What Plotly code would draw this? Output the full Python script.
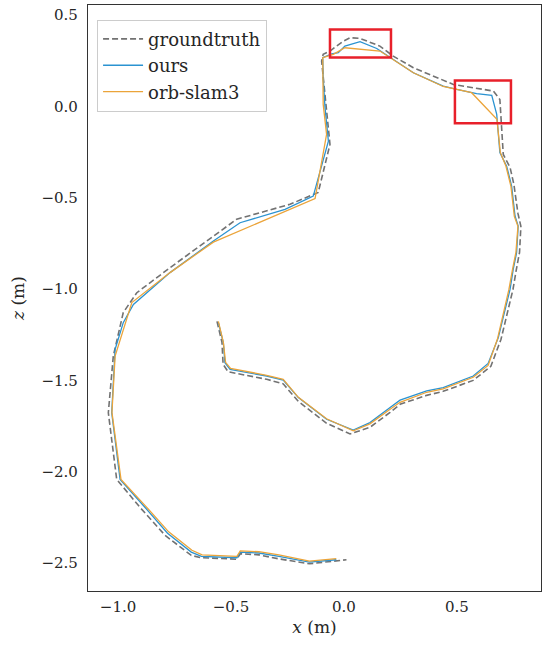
import plotly.graph_objects as go

# trajectories (metres)
gt_x = [-0.562, -0.540, -0.535, -0.513, -0.342, -0.269, -0.202, -0.077, 0.027, 0.115,
        0.204, 0.248, 0.366, 0.439, 0.572, 0.650, 0.695, 0.726, 0.748, 0.763,
        0.777, 0.783, 0.770, 0.752, 0.735, 0.705, 0.698, 0.690, 0.661, 0.484,
        0.307, 0.218, 0.159, 0.071, 0.027, -0.003, -0.062, -0.092, -0.099, -0.080,
        -0.062, -0.114, -0.239, -0.475, -0.578, -0.770, -0.917, -0.977, -1.021, -1.043,
        -1.006, -0.903, -0.792, -0.676, -0.637, -0.475, -0.459, -0.377, -0.288, -0.153, 0.011]
gt_z = [-1.177, -1.292, -1.412, -1.453, -1.494, -1.519, -1.615, -1.735, -1.793, -1.757,
        -1.675, -1.631, -1.582, -1.560, -1.500, -1.423, -1.275, -1.111, -1.002, -0.892,
        -0.799, -0.657, -0.586, -0.427, -0.334, -0.263, -0.099, 0.038, 0.084, 0.120,
        0.212, 0.275, 0.330, 0.372, 0.376, 0.357, 0.303, 0.285, 0.248, -0.005,
        -0.208, -0.471, -0.536, -0.618, -0.710, -0.883, -1.020, -1.129, -1.367, -1.677,
        -2.042, -2.195, -2.348, -2.458, -2.470, -2.479, -2.449, -2.455, -2.477, -2.504, -2.482]

ours_x = [-0.556, -0.534, -0.527, -0.504, -0.342, -0.269, -0.202, -0.077, 0.041, 0.115,
          0.204, 0.248, 0.366, 0.439, 0.572, 0.638, 0.683, 0.712, 0.735, 0.749,
          0.764, 0.771, 0.757, 0.742, 0.720, 0.690, 0.683, 0.676, 0.654, 0.587,
          0.499, 0.439, 0.307, 0.204, 0.145, 0.071, 0.004, -0.025, -0.054, -0.094,
          -0.092, -0.084, -0.069, -0.136, -0.261, -0.460, -0.578, -0.770, -0.932, -0.977,
          -1.013, -1.028, -0.991, -0.885, -0.781, -0.676, -0.631, -0.474, -0.459, -0.377,
          -0.288, -0.153, -0.034]
ours_z = [-1.184, -1.293, -1.403, -1.440, -1.476, -1.498, -1.594, -1.713, -1.772, -1.731,
          -1.649, -1.608, -1.558, -1.540, -1.476, -1.407, -1.266, -1.111, -1.002, -0.892,
          -0.801, -0.655, -0.600, -0.436, -0.327, -0.253, -0.144, -0.044, 0.060, 0.070,
          0.093, 0.111, 0.184, 0.270, 0.317, 0.354, 0.330, 0.294, 0.288, 0.267,
          0.157, -0.007, -0.190, -0.491, -0.564, -0.637, -0.737, -0.910, -1.084, -1.184,
          -1.330, -1.677, -2.042, -2.189, -2.337, -2.440, -2.463, -2.471, -2.440, -2.445,
          -2.463, -2.495, -2.482]

orb_x = [-0.556, -0.534, -0.524, -0.502, -0.342, -0.269, -0.202, -0.077, 0.041, 0.115,
         0.204, 0.248, 0.366, 0.439, 0.572, 0.638, 0.679, 0.708, 0.730, 0.746,
         0.761, 0.770, 0.754, 0.739, 0.717, 0.692, 0.681, 0.677, 0.565, 0.439,
         0.307, 0.204, 0.159, 0.004, -0.047, -0.094, -0.092, -0.077, -0.128, -0.578,
         -0.770, -0.939, -1.013, -1.027, -0.987, -0.881, -0.776, -0.673, -0.628, -0.474,
         -0.459, -0.377, -0.288, -0.153, -0.034]
orb_z = [-1.177, -1.292, -1.401, -1.434, -1.472, -1.494, -1.593, -1.710, -1.776, -1.738,
         -1.658, -1.620, -1.565, -1.546, -1.483, -1.418, -1.275, -1.111, -1.002, -0.892,
         -0.799, -0.657, -0.602, -0.438, -0.328, -0.252, -0.142, -0.071, 0.075, 0.109,
         0.184, 0.270, 0.303, 0.321, 0.285, 0.267, 0.011, -0.153, -0.505, -0.743,
         -0.910, -1.074, -1.367, -1.675, -2.042, -2.184, -2.329, -2.430, -2.455, -2.463,
         -2.433, -2.438, -2.455, -2.489, -2.476]

# highlighted regions: (x0, x1, z0, z1)
boxes = [(-0.062, 0.208, 0.268, 0.421), (0.491, 0.739, -0.093, 0.142)]

FONT = "DejaVu Serif"

fig = go.Figure()
fig.add_trace(go.Scatter(x=gt_x, y=gt_z, mode='lines', name='groundtruth',
                         line=dict(color='#727272', width=1.6, dash='6px,3px')))
fig.add_trace(go.Scatter(x=ours_x, y=ours_z, mode='lines', name='ours',
                         line=dict(color='#2b93d1', width=1.3)))
fig.add_trace(go.Scatter(x=orb_x, y=orb_z, mode='lines', name='orb-slam3',
                         line=dict(color='#eba43a', width=1.3)))

for x0, x1, y0, y1 in boxes:
    fig.add_shape(type='rect', x0=x0, x1=x1, y0=y0, y1=y1,
                  line=dict(color='#e8202a', width=2.5))

axis_style = dict(showgrid=False, zeroline=False, showline=True, mirror=True,
                  linecolor='#333333', linewidth=1.2, ticks='',
                  tickfont=dict(family=FONT, size=15, color='#262626'))

fig.update_layout(
    width=550, height=645,
    margin=dict(l=88, r=9, t=5, b=54),
    plot_bgcolor='white', paper_bgcolor='white',
    font=dict(family=FONT, color='#262626'),
    xaxis=dict(range=[-1.133, 0.872], tickvals=[-1.0, -0.5, 0.0, 0.5],
               ticktext=['\u22121.0', '\u22120.5', '0.0', '0.5'],
               ticklabelstandoff=2,
               title=dict(text='<i>x</i> (m)', font=dict(family=FONT, size=17), standoff=6),
               **axis_style),
    yaxis=dict(range=[-2.653, 0.555], tickvals=[0.5, 0.0, -0.5, -1.0, -1.5, -2.0, -2.5],
               ticktext=['0.5', '0.0', '\u22120.5', '\u22121.0', '\u22121.5', '\u22122.0', '\u22122.5'],
               ticklabelstandoff=6,
               title=dict(text='<i>z</i> (m)', font=dict(family=FONT, size=17), standoff=12),
               **axis_style),
    legend=dict(x=0.02, y=0.975, xanchor='left', yanchor='top',
                bgcolor='rgba(255,255,255,0.8)', bordercolor='#cccccc', borderwidth=1,
                font=dict(family=FONT, size=18, color='#262626'),
                itemwidth=40, tracegroupgap=0),
    showlegend=True,
)

# drop the default page margin so the figure sits at the window origin
fig.write_html("out.html", config={'displayModeBar': False},
               post_script="document.body.style.margin='0px';")
